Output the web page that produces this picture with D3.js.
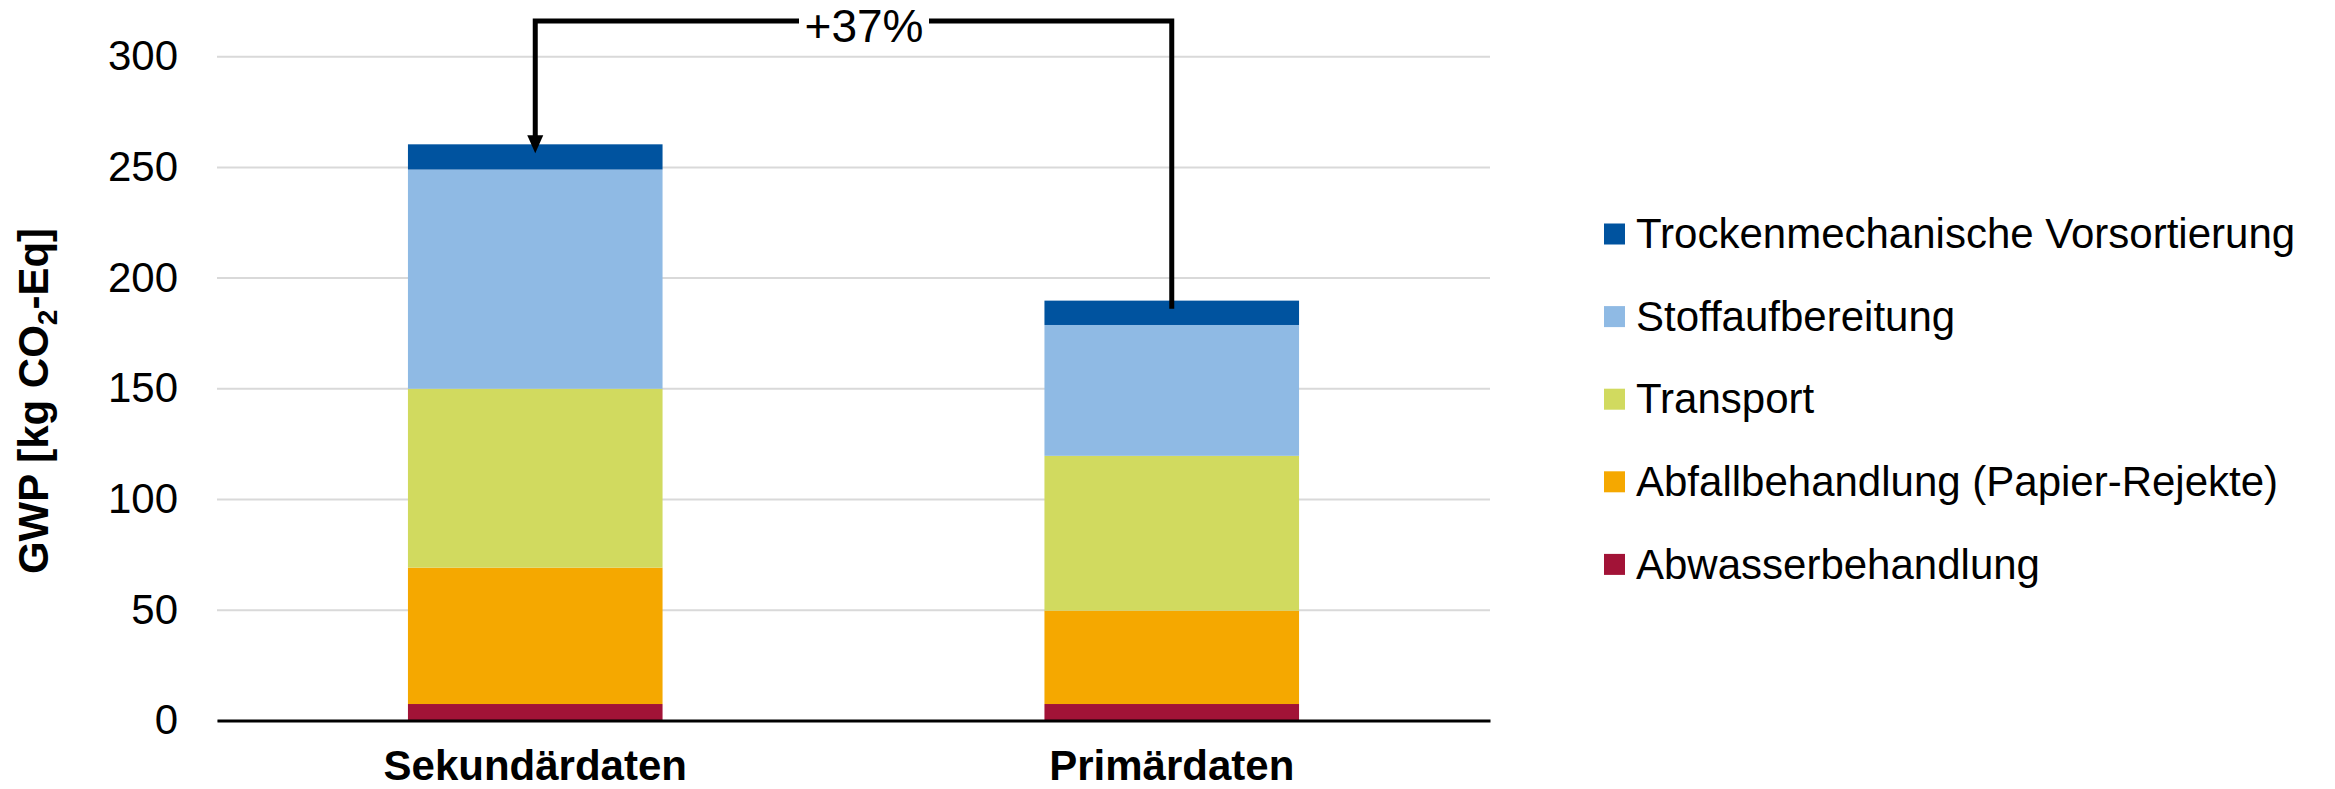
<!DOCTYPE html>
<html>
<head>
<meta charset="utf-8">
<script src="https://cdn.jsdelivr.net/npm/d3@7"></script>
<style>
  html, body { margin: 0; padding: 0; background: #fff; }
  svg { display: block; font-family: "Liberation Sans", Arial, sans-serif; }
</style>
</head>
<body>
<svg id="chart" width="2335" height="789"></svg>
<script>
// ---- data ----
const categories = ["Sekundärdaten", "Primärdaten"];
const seriesNames = [
  "Abwasserbehandlung",
  "Abfallbehandlung (Papier-Rejekte)",
  "Transport",
  "Stoffaufbereitung",
  "Trockenmechanische Vorsortierung"
];
const abwasser  = [7.4, 7.4];
const abfall    = [61.6, 42.2];
const transport = [80.8, 69.9];
const stoff     = [99.0, 59.1];
const trocken   = [11.4, 11.0];
const seriesColors = ["#A21337", "#F5A800", "#D1DA5F", "#8FBAE4", "#00539F"];
const yTicks = [0, 50, 100, 150, 200, 250, 300];
const yTitle = ["GWP [kg CO", "2", "-Eq]"];

const seriesValues = [abwasser, abfall, transport, stoff, trocken];

// ---- layout ----
const svg = d3.select("#chart");
const plot = { left: 217, right: 1490, top: 56.2, bottom: 720.4 };

const x = d3.scaleBand().domain(categories).range([plot.left, plot.right]).padding(0);
const y = d3.scaleLinear().domain([0, 300]).range([plot.bottom, plot.top]);
const barW = x.bandwidth() * 0.4;

const rows = categories.map((c, i) => {
  const r = { cat: c };
  seriesNames.forEach((s, j) => r[s] = seriesValues[j][i]);
  return r;
});
const stack = d3.stack().keys(seriesNames)(rows);
const color = d3.scaleOrdinal().domain(seriesNames).range(seriesColors);

// gridlines
const grid = svg.append("g")
  .attr("transform", `translate(${plot.left},0)`)
  .call(d3.axisLeft(y).tickValues(yTicks).tickSize(-(plot.right - plot.left)).tickFormat(""));
grid.select(".domain").remove();
grid.selectAll("line").attr("stroke", "#d9d9d9").attr("stroke-width", 2);

// y tick labels
const yAx = svg.append("g")
  .attr("transform", `translate(${plot.left},0)`)
  .call(d3.axisLeft(y).tickValues(yTicks).tickSize(0).tickPadding(39));
yAx.select(".domain").remove();
yAx.selectAll("text").attr("font-size", 42).attr("fill", "#000")
  .attr("font-family", '"Liberation Sans", Arial, sans-serif');

// bars
svg.append("g").selectAll("g").data(stack).join("g")
  .attr("fill", d => color(d.key))
  .selectAll("rect").data(d => d).join("rect")
  .attr("x", d => x(d.data.cat) + (x.bandwidth() - barW) / 2)
  .attr("width", barW)
  .attr("y", d => y(d[1]))
  .attr("height", d => y(d[0]) - y(d[1]));

// x axis
const xAx = svg.append("g")
  .attr("transform", `translate(0,${plot.bottom})`)
  .call(d3.axisBottom(x).tickSize(0).tickPadding(30));
xAx.select(".domain").attr("stroke", "#000").attr("stroke-width", 3);
xAx.selectAll("text").attr("font-size", 42).attr("font-weight", "bold").attr("fill", "#000")
  .attr("font-family", '"Liberation Sans", Arial, sans-serif');

// y title
const yt = svg.append("text")
  .attr("transform", "translate(48,401) rotate(-90)")
  .attr("text-anchor", "middle")
  .attr("font-size", 42).attr("font-weight", "bold").attr("fill", "#000");
yt.append("tspan").text(yTitle[0]);
yt.append("tspan").attr("font-size", 28).attr("dy", 9).text(yTitle[1]);
yt.append("tspan").attr("dy", -9).text(yTitle[2]);

// legend (top entry = last series)
const legend = svg.append("g");
const legOrder = seriesNames.slice().reverse();
legOrder.forEach((s, i) => {
  const cy = 234 + i * 82.6;
  legend.append("rect").attr("x", 1604).attr("y", cy - 10.5).attr("width", 21).attr("height", 21)
    .attr("fill", color(s));
  legend.append("text").attr("x", 1636).attr("y", cy).attr("dy", "0.34em")
    .attr("font-size", 42).attr("fill", "#000").text(s);
});

// connector annotation
const totals = categories.map((c, i) => d3.sum(seriesValues, v => v[i]));
const xc1 = x(categories[0]) + x.bandwidth() / 2;
const xc2 = x(categories[1]) + x.bandwidth() / 2;
const topY = 21;
const tip1 = y(totals[0]) + 9;
const end2 = y(totals[1]) + 8;
svg.append("path")
  .attr("d", `M${xc2},${end2} L${xc2},${topY} L${xc1},${topY} L${xc1},${tip1 - 14}`)
  .attr("fill", "none").attr("stroke", "#000").attr("stroke-width", 5)
  .attr("stroke-linejoin", "miter");
svg.append("path")
  .attr("d", `M${xc1 - 8},${tip1 - 18} L${xc1 + 8},${tip1 - 18} L${xc1},${tip1} Z`)
  .attr("fill", "#000");
const pct = Math.round((totals[0] / totals[1] - 1) * 100);
svg.append("rect").attr("x", 799).attr("y", 8).attr("width", 130).attr("height", 28).attr("fill", "#fff");
svg.append("text").attr("x", 864).attr("y", 41.5).attr("text-anchor", "middle")
  .attr("font-size", 46).attr("fill", "#000").text(`+${pct}%`);
</script>
</body>
</html>
